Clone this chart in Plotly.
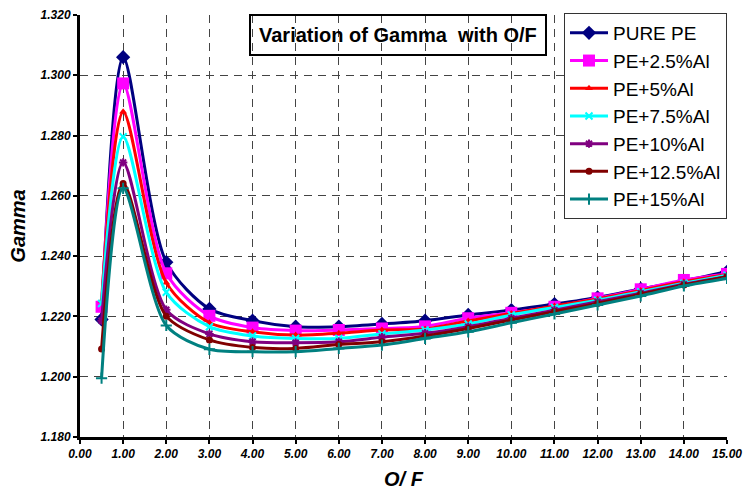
import plotly.graph_objects as go

x_of = [0.5, 1, 2, 3, 4, 5, 6, 7, 8, 9, 10, 11, 12, 13, 14, 15]

pure_pe = [1.219, 1.306, 1.238, 1.2225, 1.2186, 1.2166, 1.2166, 1.2175, 1.2186, 1.2205, 1.2221, 1.2241, 1.2263, 1.2291, 1.2318, 1.2348]
pe_2_5 = [1.2232, 1.2973, 1.2343, 1.2202, 1.2163, 1.2153, 1.2155, 1.2160, 1.2167, 1.2194, 1.2212, 1.2232, 1.2260, 1.2290, 1.2321, 1.2341]
pe_5 = [1.2252, 1.2879, 1.2312, 1.2179, 1.2149, 1.2138, 1.2144, 1.2155, 1.2158, 1.2185, 1.2210, 1.2235, 1.2258, 1.2286, 1.2315, 1.2339]
pe_7_5 = [1.2243, 1.2796, 1.2280, 1.2166, 1.2135, 1.2127, 1.2127, 1.2142, 1.2155, 1.2175, 1.2205, 1.2230, 1.2254, 1.2282, 1.2310, 1.2337]
pe_10 = [1.2186, 1.2711, 1.2222, 1.2142, 1.2116, 1.2113, 1.2116, 1.2131, 1.2144, 1.2166, 1.2194, 1.2221, 1.2249, 1.2277, 1.2307, 1.2332]
pe_12_5 = [1.2092, 1.2641, 1.2201, 1.2122, 1.2097, 1.2094, 1.2107, 1.2116, 1.2135, 1.2160, 1.2188, 1.2216, 1.2243, 1.2274, 1.2304, 1.2332]
pe_15 = [1.1995, 1.2625, 1.2170, 1.2091, 1.2083, 1.2083, 1.2094, 1.2105, 1.2127, 1.2149, 1.2179, 1.2208, 1.2238, 1.2268, 1.2301, 1.2326]

series_names = ["PURE PE", "PE+2.5%Al", "PE+5%Al", "PE+7.5%Al", "PE+10%Al", "PE+12.5%Al", "PE+15%Al"]
series_values = [pure_pe, pe_2_5, pe_5, pe_7_5, pe_10, pe_12_5, pe_15]
colors = ["#000080", "#FF00FF", "#FF0000", "#00FFFF", "#800080", "#800000", "#008080"]
symbols = ["diamond", "square", "triangle-up", "x-thin", "asterisk", "circle", "cross-thin"]
msizes = [11, 12, 7, 7, 7, 7, 8]

x_ticks = list(range(0, 16))
y_ticks = [1.18, 1.20, 1.22, 1.24, 1.26, 1.28, 1.30, 1.32]

# plot area in pixels (for placing legend / title box in paper coords)
L, R, T, B = 80, 727, 15, 437
def px(xp):
    return (xp - L) / (R - L)
def py(yp):
    return (B - yp) / (B - T)

fig = go.Figure()
for i, (name, vals) in enumerate(zip(series_names, series_values)):
    thin = symbols[i] in ("x-thin", "asterisk", "cross-thin")
    fig.add_trace(go.Scatter(
        x=x_of, y=vals, name=name, mode="lines+markers",
        line=dict(color=colors[i], width=3, shape="spline", smoothing=0.8),
        marker=dict(symbol=symbols[i], size=msizes[i], color=colors[i],
                    line=dict(color=colors[i], width=2 if thin else 0)),
        legendgroup=name,
    ))

tickfont = dict(family="Arial", size=12, color="black", weight="bold", style="italic")
fig.update_layout(
    width=743, height=494,
    margin=dict(l=L, r=743 - R, t=T, b=494 - B, autoexpand=False),
    paper_bgcolor="white", plot_bgcolor="white",
    font=dict(family="Arial", color="black"),
    xaxis=dict(
        range=[0, 15], tickvals=x_ticks, tickformat=".2f", automargin=False,
        showgrid=True, gridcolor="#444444", gridwidth=1, griddash="8px,6px",
        showline=True, linecolor="black", linewidth=3,
        ticks="outside", ticklen=4, tickwidth=2, tickcolor="black",
        tickfont=tickfont, zeroline=False,
        title=dict(text="O/ F", font=dict(family="Arial", size=20, weight="bold", style="italic"), standoff=12),
    ),
    yaxis=dict(
        range=[1.18, 1.32], tickvals=y_ticks, tickformat=".3f", automargin=False,
        showgrid=True, gridcolor="#444444", gridwidth=1, griddash="8px,6px",
        showline=True, linecolor="black", linewidth=3,
        ticks="outside", ticklen=4, tickwidth=2, tickcolor="black",
        tickfont=tickfont, zeroline=False,
        title=dict(text="Gamma", font=dict(family="Arial", size=20, weight="bold", style="italic"), standoff=10),
    ),
    legend=dict(
        x=px(564), y=py(13), xanchor="left", yanchor="top",
        bgcolor="white", bordercolor="#333333", borderwidth=1,
        font=dict(family="Arial", size=19, color="black"),
        tracegroupgap=0, traceorder="normal", itemwidth=38,
    ),
    annotations=[dict(
        text="<b>Variation of Gamma  with O/F</b>",
        xref="paper", yref="paper", x=px(398), y=py(34.5),
        xanchor="center", yanchor="middle", showarrow=False,
        font=dict(family="Arial", size=20, color="black"),
        bordercolor="black", borderwidth=2, borderpad=8,
    )],
)

fig.write_html("out.html")
